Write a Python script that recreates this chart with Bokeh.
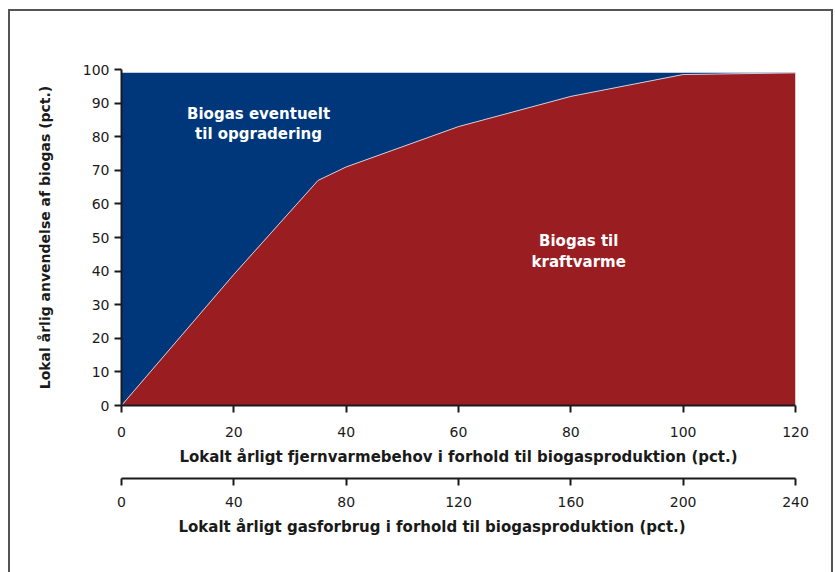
from bokeh.plotting import figure
from bokeh.models import Range1d, LinearAxis, FixedTicker, ColumnDataSource, Title
from bokeh.core.properties import value
from bokeh.embed import file_html
from bokeh.resources import INLINE

# Data
heat_demand = [0, 20, 35, 40, 60, 80, 100, 120]          # pct. of biogas production
chp_share = [0, 39, 67, 71, 83, 92, 98.5, 99]            # Biogas til kraftvarme
total_share = [99, 99, 99, 99, 99, 99, 99, 99]           # top of stacked area
x_ticks = [0, 20, 40, 60, 80, 100, 120]
gas_ticks = [0, 40, 80, 120, 160, 200, 240]
y_ticks = [0, 10, 20, 30, 40, 50, 60, 70, 80, 90, 100]

area_labels = ["Biogas eventuelt\ntil opgradering", "Biogas til\nkraftvarme"]
label_x = [24.4, 81.4]
label_y = [83.8, 45.8]

BLUE = "#00377a"
RED = "#9a1d21"
FONT = "DejaVu Sans"
DARK = "#1a1a1a"

p = figure(width=835, height=572, output_backend="svg", toolbar_location=None,
           x_range=Range1d(0, 120), y_range=Range1d(0, 100),
           min_border_left=121, min_border_right=40, min_border_top=69, min_border_bottom=167)
p.outline_line_color = None
p.grid.visible = False
p.background_fill_color = "white"
p.border_fill_color = None
# outer frame of the chart (left, top, right edges; bottom is off-screen)
p.styles = {"box-shadow": ("inset 8px 0 0 0 #ffffff, inset 0 9px 0 0 #ffffff, "
                           "inset -2px 0 0 0 #ffffff, "
                           "inset 10px 0 0 0 #555555, inset 0 11px 0 0 #555555, "
                           "inset -4px 0 0 0 #555555")}

src = ColumnDataSource(dict(x=heat_demand, chp=chp_share, total=total_share,
                            zero=[0] * len(heat_demand)))
p.varea(x="x", y1="chp", y2="total", source=src, fill_color=BLUE)
p.varea(x="x", y1="zero", y2="chp", source=src, fill_color=RED)
p.line(x="x", y="chp", source=src, line_color="#c9cbd8", line_width=1)

p.text(x=label_x, y=label_y, text=area_labels, text_color="white",
       text_font=value(FONT), text_font_size="15px", text_font_style="bold",
       text_align="center", text_baseline="middle", text_line_height=1.15)

# Y axis
ya = p.yaxis[0]
ya.ticker = FixedTicker(ticks=y_ticks)
ya.axis_label = "Lokal årlig anvendelse af biogas (pct.)"

# X axis 1
xa = p.xaxis[0]
xa.ticker = FixedTicker(ticks=x_ticks)
xa.axis_label = "Lokalt årligt fjernvarmebehov i forhold til biogasproduktion (pct.)"

# spacer (invisible, white tick on white) + second x axis
p.extra_x_ranges = {"gas": Range1d(0, 240)}
spacer = LinearAxis(x_range_name="gas", ticker=FixedTicker(ticks=[0]),
                    axis_line_color=None, major_tick_line_color="white",
                    major_tick_line_width=1,
                    minor_tick_line_color=None, major_tick_out=10, major_tick_in=0,
                    major_label_text_font_size="1px", major_label_standoff=0,
                    major_label_overrides={0: ""})
p.add_layout(spacer, "below")
xa2 = LinearAxis(x_range_name="gas", ticker=FixedTicker(ticks=gas_ticks))
p.add_layout(xa2, "below")

for ax in (ya, xa, xa2):
    ax.axis_line_color = DARK
    ax.axis_line_width = 2
    ax.major_tick_line_color = DARK
    ax.major_tick_line_width = 2
    ax.major_tick_out = 7
    ax.major_tick_in = 0
    ax.minor_tick_line_color = None
    ax.major_label_text_font = FONT
    ax.major_label_text_font_size = "14px"
    ax.major_label_text_color = DARK
    ax.axis_label_text_font = FONT
    ax.axis_label_text_font_style = "bold"
    ax.axis_label_text_color = DARK

xa.axis_label_text_font_size = "15px"
xa.major_label_standoff = 14
xa.axis_label_standoff = 8
xa2.major_label_standoff = 11

ya.axis_label_text_font_size = "14px"
ya.major_label_standoff = 5
ya.axis_label_standoff = 27

# second x-axis title, left-aligned with the first one (as in the reference)
p.add_layout(Title(text="Lokalt årligt gasforbrug i forhold til biogasproduktion (pct.)",
                   align="left", offset=57, standoff=12,
                   text_font=FONT, text_font_size="15px", text_font_style="bold",
                   text_color=DARK), "below")

open("out.html", "w").write(file_html(p, INLINE))
